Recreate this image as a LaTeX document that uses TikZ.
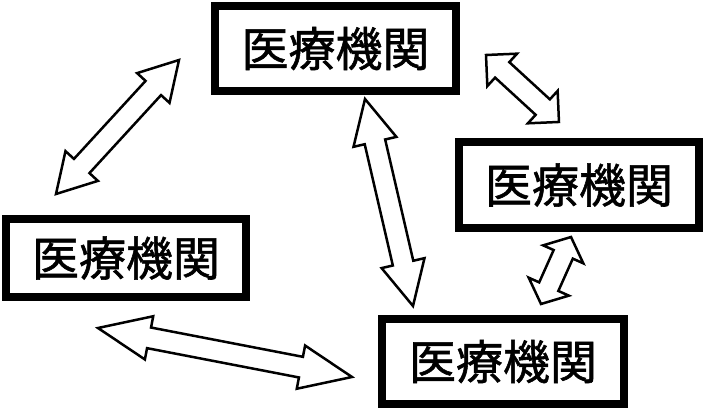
\documentclass[tikz,border=0pt]{standalone}
\usepackage{fontspec}
\newfontfamily\jp[FakeBold=1.2]{Noto Sans CJK JP}
\usetikzlibrary{calc}
\tikzstyle{box} = [draw, line width=8pt, minimum width=241pt, inner sep=0pt, font=\jp\fontsize{47}{52}\selectfont]
\tikzstyle{twoway} = [draw, line width=2.5pt, fill=white, line join=miter]
% hollow two-headed arrow: from, to, head length
\newcommand{\biarrow}[3]{%
  \draw[twoway] let \p1 = ($(#2)-(#1)$), \n1 = {atan2(\y1,\x1)}, \n2 = {veclen(\x1,\y1)} in
    [shift={(#1)}, rotate=\n1]
    (0,0) -- (#3,22) -- (#3,10.5) -- ({\n2-#3},10.5) -- ({\n2-#3},22) -- ({\n2},0)
    -- ({\n2-#3},-22) -- ({\n2-#3},-10.5) -- (#3,-10.5) -- (#3,-22) -- cycle;
}

\begin{document}
\begin{tikzpicture}[x=1pt, y=-1pt]
        \useasboundingbox (0,0) rectangle (704,409);
        \node[box, minimum height=85pt] at (335.5,48.5) (n) {医療機関};
        \node[box, minimum height=86pt, minimum width=240pt] at (579,185) (e) {医療機関};
        \node[box, minimum height=78pt, minimum width=240pt] at (126,258) (w) {医療機関};
        \node[box, minimum height=85pt, minimum width=242pt] at (503,361.5) (s) {医療機関};

        \coordinate (wn1) at (56,194);
        \coordinate (wn2) at (179,60);
        \coordinate (ne1) at (486,55);
        \coordinate (ne2) at (559,122);
        \coordinate (ns1) at (365,99);
        \coordinate (ns2) at (413,306);
        \coordinate (es1) at (571,237);
        \coordinate (es2) at (541,304);
        \coordinate (ws1) at (98,328);
        \coordinate (ws2) at (352,377);

        \biarrow{wn1}{wn2}{38}
        \biarrow{ne1}{ne2}{22}
        \biarrow{ns1}{ns2}{44}
        \biarrow{es1}{es2}{19}
        \biarrow{ws1}{ws2}{52}
\end{tikzpicture}
\end{document}
